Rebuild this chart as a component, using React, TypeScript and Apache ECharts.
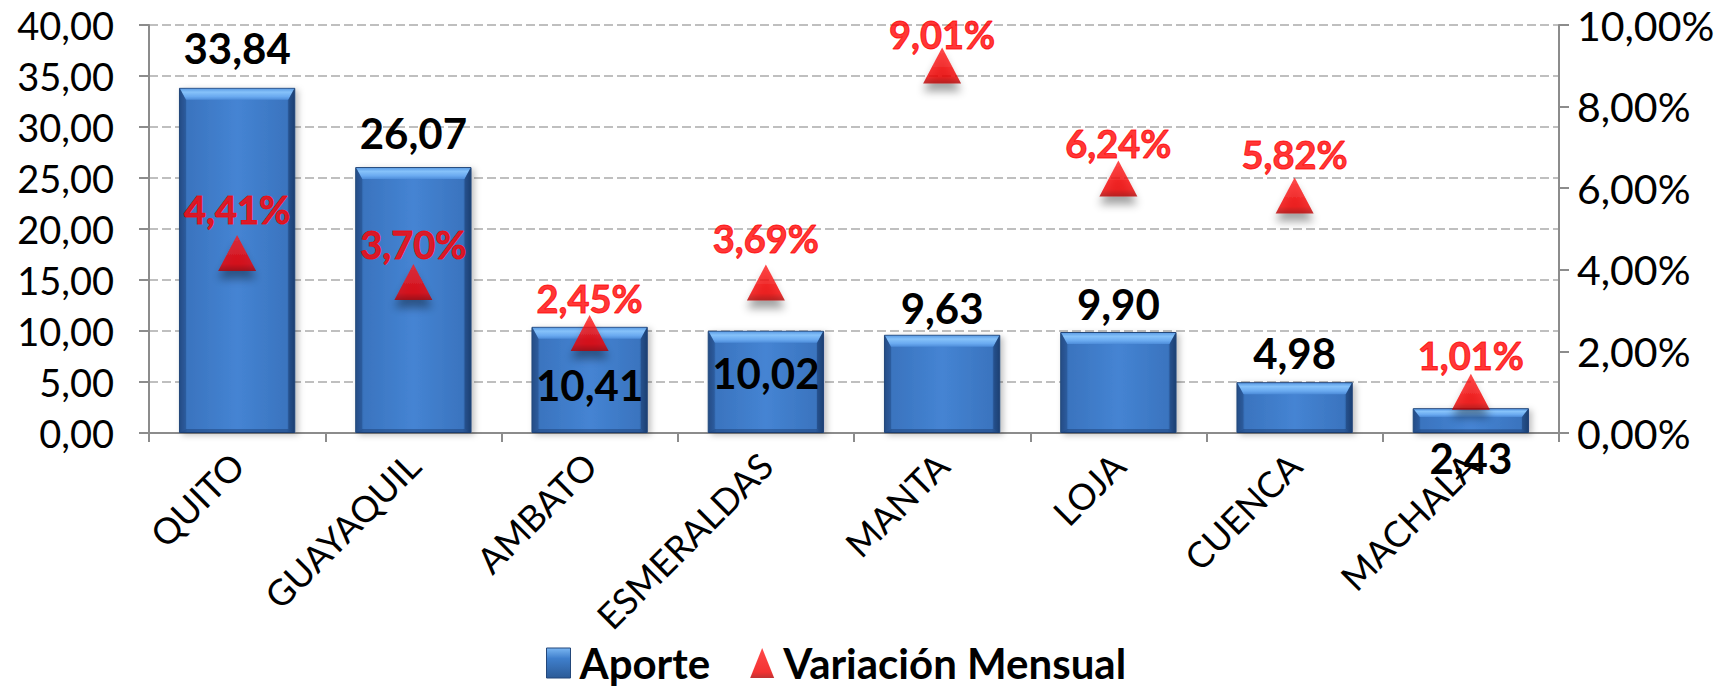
import React, { useEffect, useRef } from 'react';
import * as echarts from 'echarts';

const categories = ['QUITO', 'GUAYAQUIL', 'AMBATO', 'ESMERALDAS', 'MANTA', 'LOJA', 'CUENCA', 'MACHALA'];
const aporte = [33.84, 26.07, 10.41, 10.02, 9.63, 9.9, 4.98, 2.43];
const variacion = [4.41, 3.7, 2.45, 3.69, 9.01, 6.24, 5.82, 1.01];
const seriesNames = ['Aporte', 'Variación Mensual'];

// label placement tweaks (style only)
const aportePos = ['top', 'top', 'insideBottom', 'insideBottom', 'top', 'top', 'top', 'bottom'];
const aporteDist = [19, 13, 27, 39, 6, 7, 8, 4];
const varDist = [7, 1, -2, 7, -6, -2, 5, 0];

const FONT = 'Lato';
const BAR_RATIO = 0.66;
const fmt2 = (v: number) => v.toFixed(2).replace('.', ',');

export default function App() {
  const ref = useRef<HTMLDivElement>(null);
  useEffect(() => {
    document.body.style.margin = '0';
    const chart = echarts.init(ref.current!, null, { renderer: 'svg' });
    const barGrad = new echarts.graphic.LinearGradient(0, 0, 1, 0, [
      { offset: 0, color: '#2a5590' },
      { offset: 0.07, color: '#3a74bf' },
      { offset: 0.5, color: '#4584d3' },
      { offset: 0.93, color: '#3a74bf' },
      { offset: 1, color: '#234a7e' },
    ]);
    const triGrad = new echarts.graphic.LinearGradient(0, 0, 0, 1, [
      { offset: 0, color: '#ff1a1a' },
      { offset: 0.8, color: '#f00000' },
      { offset: 1, color: '#b00000' },
    ]);
    const legendBarGrad = new echarts.graphic.LinearGradient(0, 0, 0, 1, [
      { offset: 0, color: '#7ab6f2' },
      { offset: 0.35, color: '#3f7fcc' },
      { offset: 1, color: '#2c5b97' },
    ]);
    chart.setOption({
      animation: false,
      textStyle: { fontFamily: FONT },
      grid: { left: 149, right: 167, top: 25, bottom: 258, containLabel: false },
      legend: {
        top: 637,
        left: 541,
        itemGap: 40,
        itemWidth: 24,
        itemHeight: 30,
        textStyle: { fontFamily: FONT, fontSize: 42, fontWeight: 'bold', color: '#000', padding: [0, 0, 0, 4] },
        data: [
          { name: seriesNames[0], icon: 'rect', itemStyle: { color: legendBarGrad, borderColor: '#23477a', borderWidth: 1 } },
          { name: seriesNames[1], icon: 'triangle' },
        ],
      },
      xAxis: {
        type: 'category',
        data: categories,
        axisLine: { lineStyle: { color: '#8c8c8c', width: 2 } },
        axisTick: { show: true, length: 9, lineStyle: { color: '#8c8c8c', width: 2 } },
        axisLabel: { rotate: 45, fontSize: 36, color: '#000', margin: 26, fontFamily: FONT },
      },
      yAxis: [
        {
          type: 'value',
          min: 0,
          max: 40,
          interval: 5,
          axisLine: { show: true, lineStyle: { color: '#8c8c8c', width: 2 } },
          axisTick: { show: true, length: 10, lineStyle: { color: '#8c8c8c', width: 2 } },
          axisLabel: { fontSize: 38, color: '#000', margin: 35, formatter: (v: number) => fmt2(v), fontFamily: FONT },
          splitLine: { show: true, lineStyle: { color: '#bfbfbf', width: 2, type: [9, 4] } },
        },
        {
          type: 'value',
          min: 0,
          max: 10,
          interval: 2,
          axisLine: { show: true, lineStyle: { color: '#8c8c8c', width: 2 } },
          axisTick: { show: true, length: 10, lineStyle: { color: '#8c8c8c', width: 2 } },
          axisLabel: { fontSize: 41, color: '#000', margin: 18, formatter: (v: number) => fmt2(v) + '%', fontFamily: FONT },
          splitLine: { show: false },
        },
      ],
      series: [
        {
          name: seriesNames[0],
          type: 'bar',
          barWidth: BAR_RATIO * 100 + '%',
          z: 2,
          itemStyle: {
            color: barGrad,
            borderColor: '#23477a',
            borderWidth: 1,
            shadowColor: 'rgba(0,0,0,0.25)',
            shadowBlur: 6,
            shadowOffsetX: 3,
            shadowOffsetY: 2,
          },
          data: aporte.map((v, i) => ({
            value: v,
            label: {
              show: true,
              position: aportePos[i],
              distance: aporteDist[i],
              formatter: fmt2(v),
              fontSize: 42,
              fontWeight: 'bold',
              color: '#000',
              fontFamily: FONT,
            },
          })),
        },
        {
          name: 'bevel',
          type: 'custom',
          silent: true,
          z: 3,
          data: aporte.map((v, i) => [i, v]),
          renderItem: (params: any, api: any) => {
            const idx = api.value(0);
            const v = api.value(1);
            const top = api.coord([idx, v]);
            const base = api.coord([idx, 0]);
            const w = api.size([1, 0])[0] * BAR_RATIO;
            const x0 = top[0] - w / 2;
            const x1 = top[0] + w / 2;
            const y0 = top[1];
            const y1 = base[1];
            const h = y1 - y0;
            const b = Math.min(12, h * 0.35);
            const s = 7;
            const bb = Math.min(4, h * 0.15);
            return {
              type: 'group',
              children: [
                {
                  type: 'polygon',
                  shape: { points: [[x0 + 1, y0 + 1], [x1 - 1, y0 + 1], [x1 - s, y0 + b], [x0 + s, y0 + b]] },
                  style: {
                    fill: new echarts.graphic.LinearGradient(0, 0, 0, 1, [
                      { offset: 0, color: '#5f9fe6' },
                      { offset: 0.3, color: '#86c2fa' },
                      { offset: 0.7, color: '#6aaaf0' },
                      { offset: 1, color: '#4d8cd9' },
                    ]),
                  },
                },
                {
                  type: 'polygon',
                  shape: { points: [[x0 + 1, y0 + 1], [x0 + s, y0 + b], [x0 + s, y1 - bb], [x0 + 1, y1]] },
                  style: { fill: 'rgba(25,60,115,0.35)' },
                },
                {
                  type: 'polygon',
                  shape: { points: [[x1 - 1, y0 + 1], [x1 - s, y0 + b], [x1 - s, y1 - bb], [x1 - 1, y1]] },
                  style: { fill: 'rgba(20,50,100,0.45)' },
                },
                {
                  type: 'polygon',
                  shape: { points: [[x0 + 1, y1], [x0 + s, y1 - bb], [x1 - s, y1 - bb], [x1 - 1, y1]] },
                  style: { fill: 'rgba(20,50,100,0.4)' },
                },
              ],
            };
          },
        },
        {
          name: seriesNames[1],
          type: 'scatter',
          yAxisIndex: 1,
          z: 5,
          symbol: 'triangle',
          symbolSize: [38, 36],
          itemStyle: {
            color: triGrad,
            shadowColor: 'rgba(0,0,0,0.45)',
            shadowBlur: 8,
            shadowOffsetY: 8,
          },
          data: variacion.map((v, i) => ({
            value: v,
            label: {
              show: true,
              position: 'top',
              distance: varDist[i],
              formatter: fmt2(v) + '%',
              fontSize: 38,
              fontWeight: 'bold',
              color: '#ff0000',
              textBorderColor: '#ff0000',
              textBorderWidth: 1,
              fontFamily: FONT,
            },
          })),
        },
      ],
    });
    return () => chart.dispose();
  }, []);
  return <div ref={ref} style={{ width: 1726, height: 691 }} />;
}
